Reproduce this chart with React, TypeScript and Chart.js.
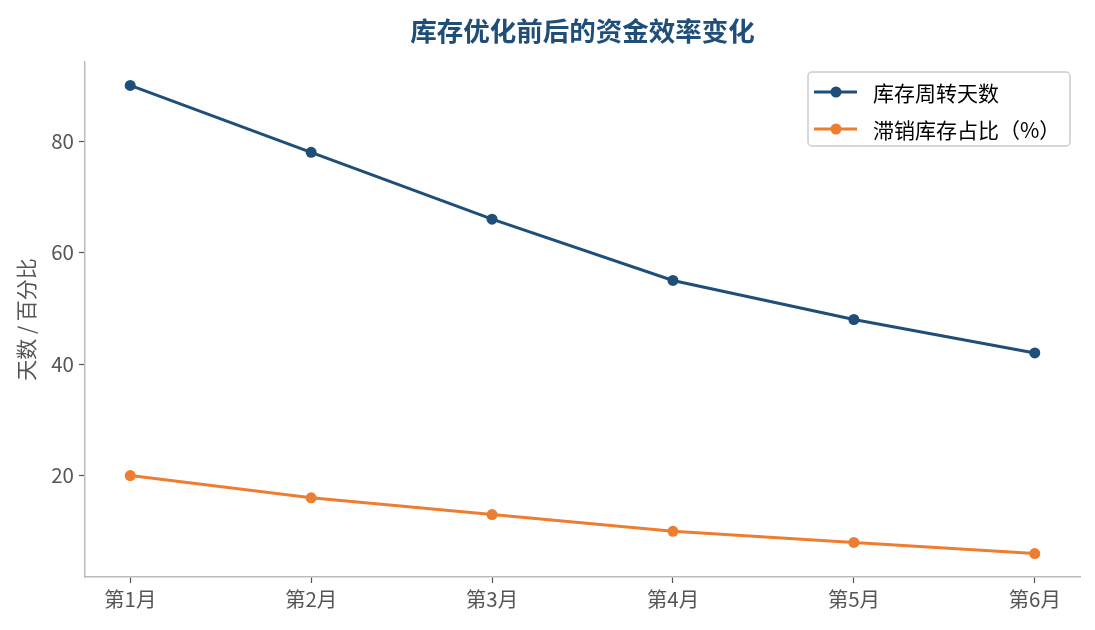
import { useEffect, useRef } from "react"
import { Chart, registerables } from "chart.js"

Chart.register(...registerables)

const months = ["第1月", "第2月", "第3月", "第4月", "第5月", "第6月"]
const turnoverDays = [90, 78, 66, 55, 48, 42]
const slowStockPct = [20, 16, 13, 10, 8, 6]
const yTicks = [20, 40, 60, 80]

const BLUE = "#1f4e79"
const ORANGE = "#ed7d31"
const FONT = "'Noto Sans CJK SC', 'Noto Sans', sans-serif"
const TITLE = "库存优化前后的资金效率变化"

// title centred over the plot area (matplotlib style)
const axesTitle = {
  id: "axesTitle",
  afterDraw(chart: Chart) {
    const { ctx, chartArea } = chart
    ctx.save()
    ctx.fillStyle = BLUE
    ctx.font = `bold 26.5px ${FONT}`
    ctx.textAlign = "center"
    ctx.textBaseline = "middle"
    ctx.fillText(TITLE, (chartArea.left + chartArea.right) / 2, 31)
    ctx.restore()
  },
}

// legend drawn inside the plot, top right
const insideLegend = {
  id: "insideLegend",
  afterDraw(chart: Chart) {
    const { ctx, chartArea } = chart
    const w = 262
    const h = 74
    const x = chartArea.right - 10 - w
    const y = chartArea.top + 10
    ctx.save()
    ctx.fillStyle = "rgba(255,255,255,0.85)"
    ctx.strokeStyle = "#cccccc"
    ctx.lineWidth = 1.5
    ctx.beginPath()
    ctx.roundRect(x, y, w, h, 4)
    ctx.fill()
    ctx.stroke()
    chart.data.datasets.forEach((ds: any, i: number) => {
      const cy = y + 20 + i * 37
      ctx.strokeStyle = ds.borderColor
      ctx.lineWidth = 3
      ctx.beginPath()
      ctx.moveTo(x + 6, cy)
      ctx.lineTo(x + 49, cy)
      ctx.stroke()
      ctx.fillStyle = ds.borderColor
      ctx.beginPath()
      ctx.arc(x + 28, cy, 5.5, 0, Math.PI * 2)
      ctx.fill()
      ctx.fillStyle = "#000"
      ctx.font = `21px ${FONT}`
      ctx.textBaseline = "middle"
      ctx.fillText(ds.label, x + 65, cy + 1)
    })
    ctx.restore()
  },
}

export default function App() {
  const canvasRef = useRef<HTMLCanvasElement>(null)
  const chartRef = useRef<Chart | null>(null)

  useEffect(() => {
    document.body.style.margin = "0"
    if (!canvasRef.current) return
    if (chartRef.current) chartRef.current.destroy()

    chartRef.current = new Chart(canvasRef.current, {
      type: "line",
      data: {
        datasets: [
          {
            label: "库存周转天数",
            data: turnoverDays.map((v, i) => ({ x: i, y: v })),
            borderColor: BLUE,
            backgroundColor: BLUE,
            borderWidth: 3,
            pointRadius: 5.5,
            pointBorderWidth: 0,
            tension: 0,
          },
          {
            label: "滞销库存占比（%）",
            data: slowStockPct.map((v, i) => ({ x: i, y: v })),
            borderColor: ORANGE,
            backgroundColor: ORANGE,
            borderWidth: 3,
            pointRadius: 5.5,
            pointBorderWidth: 0,
            tension: 0,
          },
        ],
      },
      options: {
        animation: false,
        responsive: false,
        layout: { padding: { left: 13, right: 15, top: 62, bottom: 0 } },
        plugins: {
          legend: { display: false },
          tooltip: { enabled: false },
          title: { display: false },
        },
        scales: {
          x: {
            type: "linear",
            min: -0.25,
            max: 5.25,
            afterBuildTicks: (scale: any) => {
              scale.ticks = months.map((_, i) => ({ value: i }))
            },
            afterFit: (scale: any) => {
              scale.height = 53
            },
            ticks: {
              callback: (v: any) => months[v as number] ?? "",
              color: "#555",
              font: { family: FONT, size: 20.5 },
              padding: 4,
            },
            grid: {
              display: true,
              drawOnChartArea: false,
              tickLength: 6,
              tickColor: "#555",
              tickWidth: 1.2,
            },
            border: { color: "#bbbbbb", width: 1.5 },
          },
          y: {
            min: 1.8,
            max: 94.2,
            afterBuildTicks: (scale: any) => {
              scale.ticks = yTicks.map((v) => ({ value: v }))
            },
            afterFit: (scale: any) => {
              scale.width = 72
            },
            ticks: {
              color: "#555",
              font: { family: FONT, size: 20.5 },
              padding: 5,
            },
            grid: {
              display: true,
              drawOnChartArea: false,
              tickLength: 6,
              tickColor: "#555",
              tickWidth: 1.2,
            },
            border: { color: "#bbbbbb", width: 1.5 },
            title: {
              display: true,
              text: "天数 / 百分比",
              color: "#555",
              font: { family: FONT, size: 21 },
              padding: { top: 0, bottom: 4 },
            },
          },
        },
      },
      plugins: [axesTitle, insideLegend],
    })

    return () => {
      if (chartRef.current) {
        chartRef.current.destroy()
        chartRef.current = null
      }
    }
  }, [])

  return (
    <div style={{ width: 1095, height: 630, background: "#fff" }}>
      <canvas ref={canvasRef} width={1095} height={630} />
    </div>
  )
}
